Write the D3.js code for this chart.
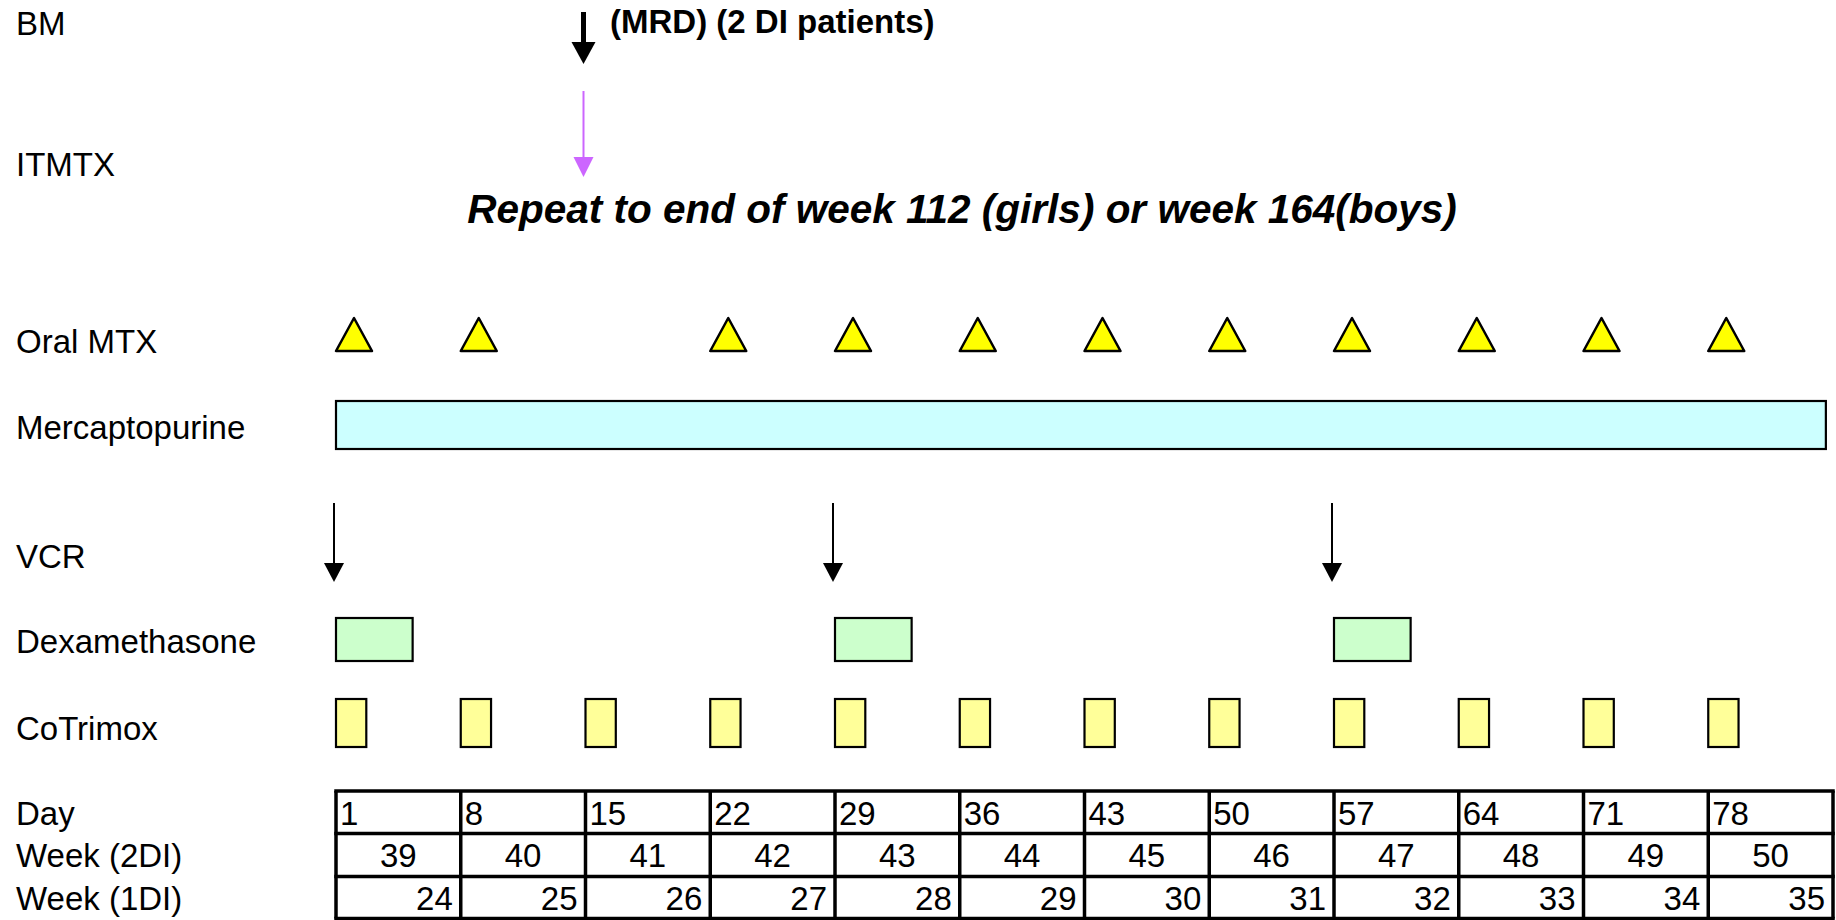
<!DOCTYPE html>
<html>
<head>
<meta charset="utf-8">
<script src="https://cdn.jsdelivr.net/npm/d3@7"></script>
<style>
  html, body { margin: 0; padding: 0; background: #fff; }
  svg { display: block; }
  text { font-family: "Liberation Sans", Arial, sans-serif; }
</style>
</head>
<body>
<svg id="chart" width="1836" height="920"></svg>
<script>
// ---------------- data ----------------
const rowLabels = ["BM", "ITMTX", "Oral MTX", "Mercaptopurine", "VCR", "Dexamethasone", "CoTrimox", "Day", "Week (2DI)", "Week (1DI)"];
const dayStarts = [1, 8, 15, 22, 29, 36, 43, 50, 57, 64, 71, 78];
const week2DI = [39, 40, 41, 42, 43, 44, 45, 46, 47, 48, 49, 50];
const week1DI = [24, 25, 26, 27, 28, 29, 30, 31, 32, 33, 34, 35];
const bmDays = [15];
const itmtxDays = [15];
const oralMtxDays = [1, 8, 22, 29, 36, 43, 50, 57, 64, 71, 78];
const mercaptopurine = [[1, 84.6]];
const vcrDays = [1, 29, 57];
const dexCourses = [[1, 5.3], [29, 33.3], [57, 61.3]];
const cotrimoxDays = [1, 8, 15, 22, 29, 36, 43, 50, 57, 64, 71, 78];
const cotrimoxLength = 1.7;
const bmNote = "(MRD) (2 DI patients)";
const repeatNote = "Repeat to end of week 112 (girls) or week 164(boys)";
const endDay = 85;

// ---------------- layout ----------------
const svg = d3.select("#chart");
const x = d3.scaleLinear().domain([1, endDay]).range([336, 1833]);
const FS = 33;
const labelY = {
  "BM": 35, "ITMTX": 176, "Oral MTX": 353, "Mercaptopurine": 439, "VCR": 568,
  "Dexamethasone": 653, "CoTrimox": 740, "Day": 825, "Week (2DI)": 867, "Week (1DI)": 910
};

// row labels
svg.append("g").selectAll("text").data(rowLabels).join("text")
  .attr("x", 16).attr("y", d => labelY[d])
  .attr("font-size", FS).attr("fill", "#000")
  .text(d => d);

// BM arrow (thick)
const bm = svg.append("g");
bmDays.forEach(d => {
  const cx = x(d) - 2;
  bm.append("line").attr("x1", cx).attr("x2", cx).attr("y1", 12).attr("y2", 44)
    .attr("stroke", "#000").attr("stroke-width", 5);
  bm.append("path").attr("d", `M${cx - 12},42 L${cx + 12},42 L${cx},64 Z`).attr("fill", "#000");
  bm.append("text").attr("x", 610).attr("y", 33).attr("font-size", FS).attr("font-weight", "bold").text(bmNote);
});

// ITMTX arrow (purple)
const it = svg.append("g");
itmtxDays.forEach(d => {
  const cx = x(d) - 2;
  it.append("line").attr("x1", cx).attr("x2", cx).attr("y1", 91).attr("y2", 158)
    .attr("stroke", "#CC66FF").attr("stroke-width", 2);
  it.append("path").attr("d", `M${cx - 10},157 L${cx + 10},157 L${cx},177 Z`).attr("fill", "#CC66FF");
});

// Repeat note
svg.append("text").attr("x", 962).attr("y", 223).attr("text-anchor", "middle")
  .attr("font-size", 40.5).attr("font-weight", "bold").attr("font-style", "italic")
  .text(repeatNote);

// Oral MTX triangles
svg.append("g").selectAll("path").data(oralMtxDays).join("path")
  .attr("d", d => { const l = x(d), w = 36; return `M${l},351 L${l + w},351 L${l + w / 2},318 Z`; })
  .attr("fill", "#FFFF00").attr("stroke", "#000").attr("stroke-width", 2.5).attr("stroke-linejoin", "round");

// Mercaptopurine bar
svg.append("g").selectAll("rect").data(mercaptopurine).join("rect")
  .attr("x", d => x(d[0])).attr("width", d => x(d[1]) - x(d[0]))
  .attr("y", 401).attr("height", 48)
  .attr("fill", "#CCFFFF").attr("stroke", "#000").attr("stroke-width", 2.2);

// VCR arrows
const vcr = svg.append("g").selectAll("g").data(vcrDays).join("g");
vcr.append("line").attr("x1", d => x(d) - 2).attr("x2", d => x(d) - 2).attr("y1", 503).attr("y2", 566)
  .attr("stroke", "#000").attr("stroke-width", 2);
vcr.append("path").attr("d", d => { const cx = x(d) - 2; return `M${cx - 10},563 L${cx + 10},563 L${cx},582 Z`; })
  .attr("fill", "#000");

// Dexamethasone
svg.append("g").selectAll("rect").data(dexCourses).join("rect")
  .attr("x", d => x(d[0])).attr("width", d => x(d[1]) - x(d[0]))
  .attr("y", 618).attr("height", 43)
  .attr("fill", "#CCFFCC").attr("stroke", "#000").attr("stroke-width", 2.2);

// CoTrimox
svg.append("g").selectAll("rect").data(cotrimoxDays).join("rect")
  .attr("x", d => x(d)).attr("width", d => x(d + cotrimoxLength) - x(d))
  .attr("y", 699).attr("height", 48)
  .attr("fill", "#FFFF99").attr("stroke", "#000").attr("stroke-width", 2.2);

// Table
const rowLines = [791, 833.5, 876.5, 918.5];
const tbl = svg.append("g");
const colEdges = dayStarts.concat([endDay]);
rowLines.forEach(yy => {
  tbl.append("line").attr("x1", x(1) - 1.75).attr("x2", x(endDay) + 1.75).attr("y1", yy).attr("y2", yy)
    .attr("stroke", "#000").attr("stroke-width", 3.5);
});
tbl.selectAll("line.v").data(colEdges).join("line").attr("class", "v")
  .attr("x1", d => x(d)).attr("x2", d => x(d)).attr("y1", rowLines[0]).attr("y2", rowLines[3])
  .attr("stroke", "#000").attr("stroke-width", 3.5);

tbl.selectAll("text.day").data(dayStarts).join("text").attr("class", "day")
  .attr("x", d => x(d) + 4).attr("y", 825).attr("font-size", FS).text(d => d);
tbl.selectAll("text.w2").data(week2DI).join("text").attr("class", "w2")
  .attr("x", (d, i) => (x(colEdges[i]) + x(colEdges[i + 1])) / 2).attr("y", 867)
  .attr("text-anchor", "middle").attr("font-size", FS).text(d => d);
tbl.selectAll("text.w1").data(week1DI).join("text").attr("class", "w1")
  .attr("x", (d, i) => x(colEdges[i + 1]) - 8).attr("y", 910)
  .attr("text-anchor", "end").attr("font-size", FS).text(d => d);
</script>
</body>
</html>
